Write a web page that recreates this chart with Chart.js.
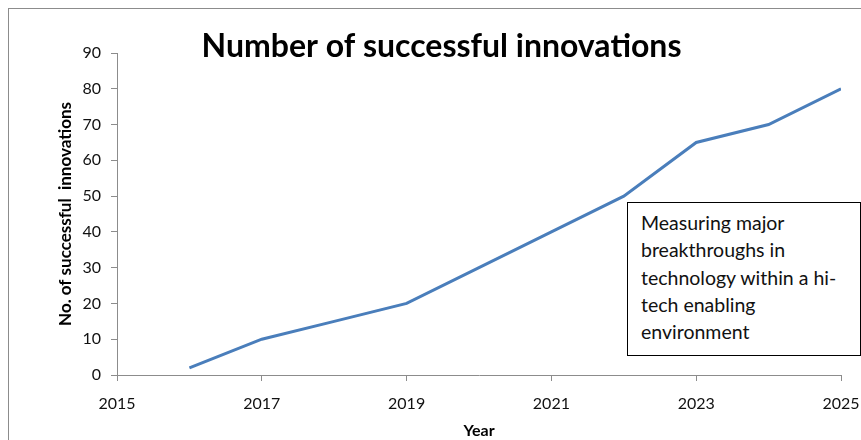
<!DOCTYPE html>
<html>
<head>
<meta charset="utf-8">
<script src="https://cdn.jsdelivr.net/npm/chart.js@4"></script>
<style>
  html, body { margin: 0; padding: 0; background: #fff; }
  #wrap { position: relative; width: 861px; height: 440px; overflow: hidden; }
  #note {
    position: absolute; left: 627px; top: 202px; width: 219px; height: 146px;
    border: 1px solid #000; background: #fff; padding: 6px 0 0 13px;
    font-family: Lato, "Open Sans", sans-serif; font-size: 19.5px; line-height: 27.3px; color: #111;
    white-space: nowrap;
  }
</style>
</head>
<body>
<div id="wrap">
  <canvas id="c" width="861" height="440"></canvas>
  <div id="note">Measuring major<br>breakthroughs in<br>technology within a hi-<br>tech enabling<br>environment</div>
</div>
<script>
const years = [2016, 2017, 2018, 2019, 2020, 2021, 2022, 2023, 2024, 2025];
const innovations = [2, 10, 15, 20, 30, 40, 50, 65, 70, 80];
const xTicks = [2015, 2017, 2019, 2021, 2023, 2025];
const yTicks = [0, 10, 20, 30, 40, 50, 60, 70, 80, 90];

const FONT = 'Lato, "Open Sans", sans-serif';

const borderPlugin = {
  id: 'outerBorder',
  beforeDraw(chart) {
    const ctx = chart.ctx;
    ctx.save();
    ctx.fillStyle = '#fff';
    ctx.fillRect(0, 0, chart.width, chart.height);
    ctx.strokeStyle = '#8c8c8c';
    ctx.lineWidth = 1;
    ctx.strokeRect(8.5, 8.5, chart.width + 20, chart.height + 20);
    ctx.restore();
  }
};

new Chart(document.getElementById('c'), {
  type: 'line',
  data: {
    datasets: [{
      label: 'No. of successful innovations',
      data: years.map((y, i) => ({ x: y, y: innovations[i] })),
      borderColor: '#4A7EBB',
      borderWidth: 3,
      pointRadius: 0,
      tension: 0,
      fill: false
    }]
  },
  options: {
    responsive: false,
    animation: false,
    layout: { padding: { top: 0, left: 22, right: 0, bottom: 0 } },
    plugins: {
      legend: { display: false },
      tooltip: { enabled: false },
      title: {
        display: true,
        text: 'Number of successful innovations',
        color: '#000',
        font: { family: FONT, size: 32, weight: 'bold' },
        padding: { top: 27, bottom: -12.4 }
      }
    },
    scales: {
      x: {
        type: 'linear',
        min: 2015, max: 2025,
        afterFit(s) { s.height = 65; s.paddingRight = 20; s.paddingLeft = 0; },
        afterBuildTicks(s) { s.ticks = xTicks.map(v => ({ value: v })); },
        grid: { drawOnChartArea: false, drawTicks: true, tickLength: 6, color: '#8c8c8c' },
        border: { display: true, color: '#8c8c8c' },
        ticks: {
          color: '#111', padding: 13, maxRotation: 0,
          font: { family: FONT, size: 16 },
          callback: v => String(v)
        },
        title: {
          display: true, text: 'Year', color: '#000',
          font: { family: FONT, size: 16, weight: 'bold' },
          padding: { top: 0, bottom: 0 }
        }
      },
      y: {
        min: 0, max: 90,
        afterFit(s) { s.width = 95; },
        afterBuildTicks(s) { s.ticks = yTicks.map(v => ({ value: v })); },
        grid: { drawOnChartArea: false, drawTicks: true, tickLength: 6, color: '#8c8c8c' },
        border: { display: true, color: '#8c8c8c' },
        ticks: {
          color: '#111', padding: 10,
          font: { family: FONT, size: 16 }
        },
        title: {
          display: true, text: 'No. of successful  innovations', color: '#000',
          font: { family: FONT, size: 17, weight: 'bold' },
          padding: { top: 33, bottom: 0 }
        }
      }
    }
  },
  plugins: [borderPlugin]
});
</script>
</body>
</html>
